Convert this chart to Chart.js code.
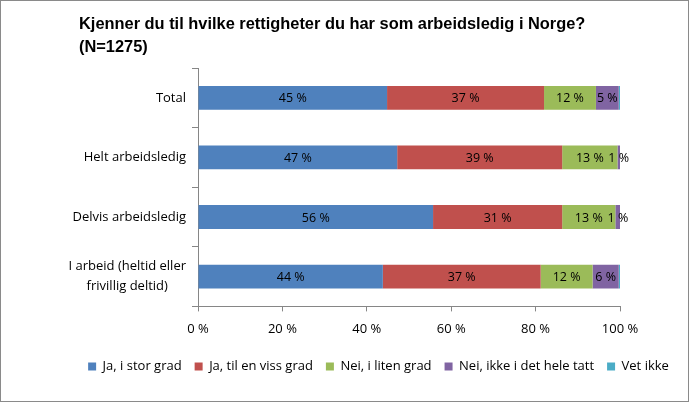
<!DOCTYPE html>
<html><head><meta charset="utf-8">
<script src="https://cdn.jsdelivr.net/npm/chart.js@4"></script>
<style>html,body{margin:0;padding:0;background:#fff}#wrap{width:689px;height:402px;position:relative}</style>
</head><body><div id="wrap"><canvas id="c" width="689" height="402"></canvas></div>
<script>
const categories = [["Total"], ["Helt arbeidsledig"], ["Delvis arbeidsledig"], ["I arbeid (heltid eller", "frivillig deltid)"]];
const seriesNames = ["Ja, i stor grad", "Ja, til en viss grad", "Nei, i liten grad", "Nei, ikke i det hele tatt", "Vet ikke"];
const jaStor = [44.8, 47.2, 55.7, 43.8];
const jaViss = [37.2, 39.1, 30.6, 37.4];
const neiLiten = [12.3, 13.1, 12.6, 12.3];
const neiIkke = [5.4, 0.6, 1.2, 6.2];
const vetIkke = [0.3, 0.0, 0.0, 0.3];
const xTicks = [0, 20, 40, 60, 80, 100];
const titleLines = ["Kjenner du til hvilke rettigheter du har som arbeidsledig i Norge?", "(N=1275)"];
const colors = ["#4F81BD", "#C0504D", "#9BBB59", "#8064A2", "#4BACC6"];

const FONT = "'Open Sans', 'Liberation Sans', Arial, sans-serif";
const TFONT = "'Liberation Sans', Arial, sans-serif";
const seriesData = [jaStor, jaViss, neiLiten, neiIkke, vetIkke];

const borderPlugin = {
  id: 'border',
  beforeDraw(chart) {
    const ctx = chart.ctx;
    ctx.save();
    ctx.fillStyle = '#fff';
    ctx.fillRect(0, 0, chart.width, chart.height);
    ctx.strokeStyle = '#8a8a8a';
    ctx.lineWidth = 1;
    ctx.strokeRect(0.5, 0.5, chart.width - 1, chart.height - 1);
    ctx.restore();
  }
};

const labelsPlugin = {
  id: 'valueLabels',
  afterDatasetsDraw(chart) {
    const ctx = chart.ctx;
    ctx.save();
    ctx.font = "12.5px " + FONT;
    ctx.fillStyle = '#000';
    ctx.textAlign = 'center';
    ctx.textBaseline = 'middle';
    chart.data.datasets.forEach((ds, di) => {
      const meta = chart.getDatasetMeta(di);
      meta.data.forEach((el, i) => {
        const v = ds.data[i];
        if (v >= 0.5) {
          const x = (el.x + el.base) / 2;
          ctx.fillText(Math.round(v) + ' %', x, el.y + 1);
        }
      });
    });
    // category labels
    const ys = chart.scales.y;
    ctx.font = "13px " + FONT;
    chart.data.labels.forEach((lab, i) => {
      const y = ys.getPixelForValue(i);
      const lines = lab;
      const lh = 20;
      let maxW = 0;
      lines.forEach(l => { maxW = Math.max(maxW, ctx.measureText(l).width); });
      const right = 186;
      const cx = right - maxW / 2;
      lines.forEach((l, k) => {
        ctx.fillText(l, cx, y + (k - (lines.length - 1) / 2) * lh);
      });
    });
    // title
    ctx.font = "bold 16.4px " + TFONT;
    ctx.textAlign = 'left';
    titleLines.forEach((t, k) => ctx.fillText(t, 79, 24 + k * 23));
    ctx.restore();
  }
};

new Chart(document.getElementById('c'), {
  type: 'bar',
  data: {
    labels: categories,
    datasets: seriesNames.map((n, i) => ({
      label: n,
      data: seriesData[i],
      backgroundColor: colors[i],
      borderWidth: 0,
      categoryPercentage: 1,
      barPercentage: 0.4
    }))
  },
  options: {
    indexAxis: 'y',
    responsive: false,
    animation: false,
    devicePixelRatio: 1,
    layout: { padding: { left: 68, right: 0, top: 68, bottom: 19 } },
    plugins: {
      title: { display: false },
      tooltip: { enabled: false },
      legend: {
        position: 'bottom',
        labels: {
          boxWidth: 8, boxHeight: 8, padding: 13,
          color: '#000',
          font: { size: 13, family: FONT }
        }
      }
    },
    scales: {
      x: {
        stacked: true,
        min: 0, max: 100,
        afterBuildTicks(scale) { scale.ticks = xTicks.map(v => ({ value: v })); },
        ticks: { callback: v => v + ' %', color: '#000', font: { size: 13, family: FONT }, padding: 10, maxRotation: 0 },
        grid: { drawOnChartArea: false, drawTicks: true, tickLength: 5, color: '#868686' },
        border: { color: '#868686' }
      },
      y: {
        stacked: true,
        afterFit(scale) { scale.width = 130; },
        ticks: { display: false },
        grid: { offset: true, drawOnChartArea: false, drawTicks: true, tickLength: 6, color: '#868686' },
        border: { color: '#868686' }
      },
      yr: {
        position: 'right',
        display: true,
        afterFit(scale) { scale.width = 69; },
        ticks: { display: false },
        grid: { display: false },
        border: { display: false }
      }
    }
  },
  plugins: [borderPlugin, labelsPlugin]
});
</script></body></html>
